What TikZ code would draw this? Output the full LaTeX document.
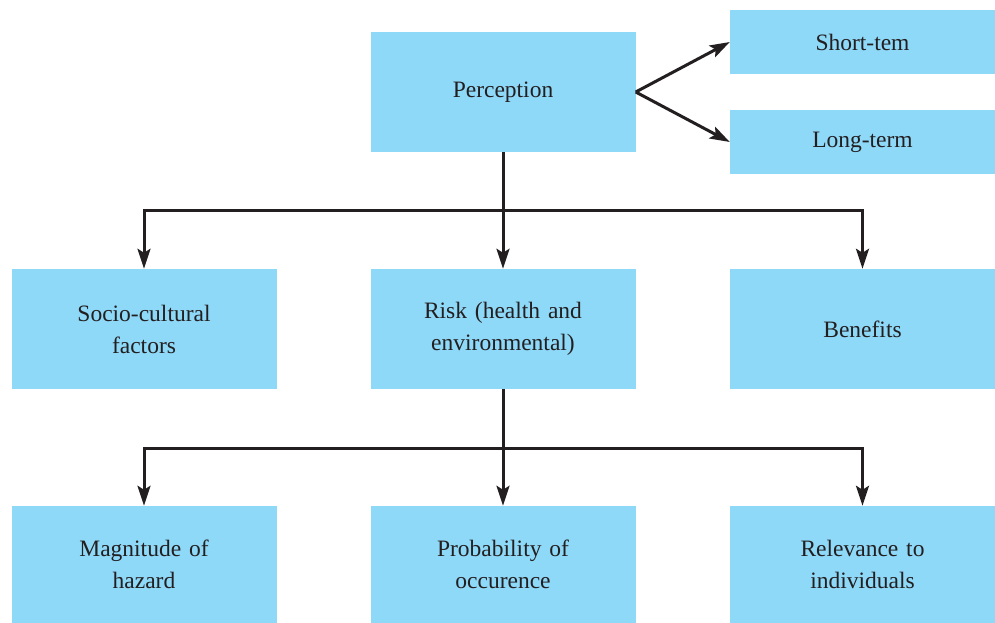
\documentclass[tikz,border=0pt]{standalone}
\usepackage{fontspec}
\setmainfont{Liberation Serif}
\usetikzlibrary{arrows.meta}
\definecolor{boxblue}{HTML}{8ED8F8}
\definecolor{ink}{HTML}{231F20}
\begin{document}
\begin{tikzpicture}[x=1pt,y=-1pt,
  box/.style={fill=boxblue, inner sep=0pt, minimum width=265pt, minimum height=120pt,
    text width=250pt, align=center, text=ink, font=\fontsize{23.5}{32}\selectfont},
  smallbox/.style={box, minimum height=64pt},
  arr/.style={draw=ink, line width=3pt, -{Stealth[length=20pt,width=13pt,inset=4pt]}},
  ln/.style={draw=ink, line width=3pt}]
\useasboundingbox (0,0) rectangle (995,623);
\node[box] (per) at (503,92) {Perception};
\node[smallbox] (st) at (862.5,42) {Short-tem};
\node[smallbox] (lt) at (862.5,142) {Long-term};
\node[box] (soc) at (144,329) {Socio-cultural\\factors};
\node[box] (risk) at (503,329) {Risk (health and\\environmental)};
\node[box] (ben) at (862.5,329) {Benefits};
\node[box, minimum height=117pt] (mag) at (144,564.5) {Magnitude of\\hazard};
\node[box, minimum height=117pt] (prob) at (503,564.5) {Probability of\\occurence};
\node[box, minimum height=117pt] (rel) at (862.5,564.5) {Relevance to\\individuals};
\coordinate (j1) at (503,210);
\coordinate (j2) at (503,448);
\draw[arr] (per.east) -- (st.west);
\draw[arr] (per.east) -- (lt.west);
\draw[ln] (per.south) -- (j1);
\draw[arr] (j1) -| (soc.north);
\draw[arr] (j1) -- (risk.north);
\draw[arr] (j1) -| (ben.north);
\draw[ln] (risk.south) -- (j2);
\draw[arr] (j2) -| (mag.north);
\draw[arr] (j2) -- (prob.north);
\draw[arr] (j2) -| (rel.north);
\end{tikzpicture}
\end{document}
